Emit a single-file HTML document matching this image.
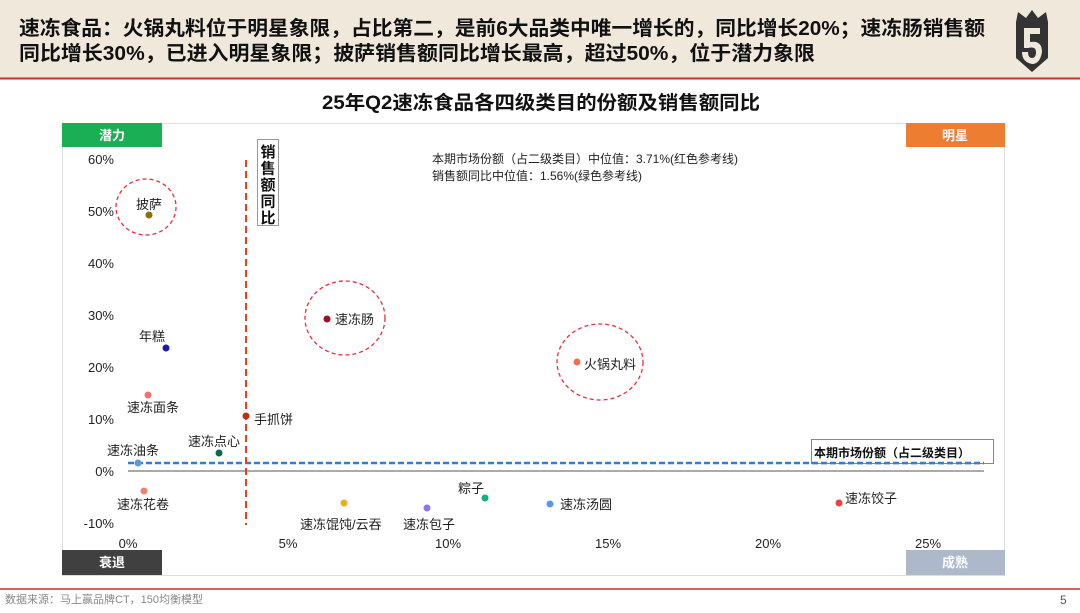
<!DOCTYPE html>
<html><head><meta charset="utf-8"><style>
body{margin:0;width:1080px;height:608px;overflow:hidden;background:#fff;font-family:"Liberation Sans","Noto Sans CJK SC",sans-serif;}
svg text{font-family:"Liberation Sans","Noto Sans CJK SC",sans-serif;}
</style></head><body>
<svg width="1080" height="608" viewBox="0 0 1080 608" xmlns="http://www.w3.org/2000/svg">
<rect x="0" y="0" width="1080" height="78" fill="#f1e8dc"/>
<line x1="0" y1="78.5" x2="1080" y2="78.5" stroke="#c9302c" stroke-width="2"/>
<text x="19" y="35" font-size="20" font-weight="bold" fill="#111" textLength="966" lengthAdjust="spacingAndGlyphs">速冻食品：火锅丸料位于明星象限，占比第二，是前6大品类中唯一增长的，同比增长20%；速冻肠销售额</text>
<text x="19" y="60" font-size="20" font-weight="bold" fill="#111" textLength="796" lengthAdjust="spacingAndGlyphs">同比增长30%，已进入明星象限；披萨销售额同比增长最高，超过50%，位于潜力象限</text>
<!-- logo -->
<path d="M1018 12 L1026 18 L1032 10 L1038 18 L1046 12 L1048 22 L1048 58 L1032 72 L1016 58 L1016 22 Z" fill="#333"/>
<path d="M1024 28 L1040 28 L1040 34 L1030 34 L1030 42 Q1042 40 1042 52 Q1040 64 1032 64 Q1022 62 1022 52 L1028 52 Q1028 58 1032 58 Q1036 58 1036 52 Q1036 46 1028 48 L1024 48 Z" fill="#f1e8dc"/>
<text x="322" y="109" font-size="19" font-weight="bold" fill="#111" textLength="438" lengthAdjust="spacingAndGlyphs">25年Q2速冻食品各四级类目的份额及销售额同比</text>
<rect x="62.5" y="123.5" width="942" height="452" fill="#fff" stroke="#ddd"/>
<rect x="62" y="123" width="100" height="24" fill="#1aaf54"/>
<text x="112" y="140" font-size="13" font-weight="bold" fill="#fff" text-anchor="middle">潜力</text>
<rect x="906" y="123" width="99" height="24" fill="#ed7d31"/>
<text x="955" y="140" font-size="13" font-weight="bold" fill="#fff" text-anchor="middle">明星</text>
<rect x="62" y="550" width="100" height="25" fill="#404040"/>
<text x="112" y="567" font-size="13" font-weight="bold" fill="#fff" text-anchor="middle">衰退</text>
<rect x="906" y="550" width="99" height="25" fill="#adb9ca"/>
<text x="955" y="567" font-size="13" font-weight="bold" fill="#fff" text-anchor="middle">成熟</text>
<g font-size="13" fill="#222" text-anchor="end">
<text x="114" y="164">60%</text><text x="114" y="216">50%</text><text x="114" y="268">40%</text>
<text x="114" y="320">30%</text><text x="114" y="372">20%</text><text x="114" y="424">10%</text>
<text x="114" y="476">0%</text><text x="114" y="528">-10%</text>
</g>
<g font-size="13" fill="#222" text-anchor="middle">
<text x="128" y="548">0%</text><text x="288" y="548">5%</text><text x="448" y="548">10%</text>
<text x="608" y="548">15%</text><text x="768" y="548">20%</text><text x="928" y="548">25%</text>
</g>
<line x1="128" y1="471" x2="984" y2="471" stroke="#aaa" stroke-width="2"/>
<line x1="128" y1="463" x2="984" y2="463" stroke="#2f7fd8" stroke-width="2.5" stroke-dasharray="6,3"/>
<line x1="246" y1="160" x2="246" y2="525" stroke="#e8401c" stroke-width="2" stroke-dasharray="7,4"/>
<rect x="257.5" y="139.5" width="21" height="86" fill="#fff" stroke="#999"/>
<g font-size="15" font-weight="bold" fill="#111" text-anchor="middle">
<text x="268" y="157">销</text><text x="268" y="173.5">售</text><text x="268" y="190">额</text><text x="268" y="206.5">同</text><text x="268" y="223">比</text>
</g>
<text x="432" y="163" font-size="12" fill="#222">本期市场份额（占二级类目）中位值：3.71%(红色参考线)</text>
<text x="432" y="180" font-size="12" fill="#222">销售额同比中位值：1.56%(绿色参考线)</text>
<rect x="811.5" y="439.5" width="182" height="24" fill="#fff" stroke="#888"/>
<line x1="812" y1="463" x2="984" y2="463" stroke="#2f7fd8" stroke-width="2.5" stroke-dasharray="6,3"/>
<text x="814" y="457" font-size="12" font-weight="bold" fill="#111">本期市场份额（占二级类目）</text>
<g fill="none" stroke="#e8303a" stroke-width="1.3" stroke-dasharray="4,3">
<ellipse cx="146" cy="207" rx="30" ry="28"/>
<ellipse cx="345" cy="318" rx="40" ry="37"/>
<ellipse cx="600" cy="362" rx="43" ry="38"/>
</g>
<g font-size="13" fill="#222">
<circle cx="149" cy="215" r="3.5" fill="#8b6d10"/><text x="136" y="209">披萨</text>
<circle cx="327" cy="319" r="3.5" fill="#a01020"/><text x="335" y="324">速冻肠</text>
<circle cx="166" cy="348" r="3.5" fill="#1a1ab0"/><text x="139" y="341">年糕</text>
<circle cx="577" cy="362" r="3.5" fill="#f07050"/><text x="584" y="369">火锅丸料</text>
<circle cx="148" cy="395" r="3.5" fill="#f07070"/><text x="127" y="412">速冻面条</text>
<circle cx="246" cy="416" r="3.5" fill="#c03010"/><text x="254" y="424">手抓饼</text>
<circle cx="219" cy="453" r="3.5" fill="#0a6a50"/><text x="188" y="446">速冻点心</text>
<circle cx="138" cy="463" r="3.5" fill="#5a9ae0"/><text x="107" y="455">速冻油条</text>
<circle cx="144" cy="491" r="3.5" fill="#f08070"/><text x="117" y="509">速冻花卷</text>
<circle cx="344" cy="503" r="3.5" fill="#e8b020"/><text x="300" y="529">速冻馄饨/云吞</text>
<circle cx="427" cy="508" r="3.5" fill="#8a7ae8"/><text x="403" y="529">速冻包子</text>
<circle cx="485" cy="498" r="3.5" fill="#10b080"/><text x="458" y="493">粽子</text>
<circle cx="550" cy="504" r="3.5" fill="#5a9ae0"/><text x="560" y="509">速冻汤圆</text>
<circle cx="839" cy="503" r="3.5" fill="#f04040"/><text x="845" y="503">速冻饺子</text>
</g>
<line x1="0" y1="589" x2="1080" y2="589" stroke="#c9302c" stroke-width="1.5"/>
<text x="5" y="603" font-size="11" fill="#888">数据来源：马上赢品牌CT，150均衡模型</text>
<text x="1060" y="604" font-size="12" fill="#555">5</text>
</svg>
</body></html>
